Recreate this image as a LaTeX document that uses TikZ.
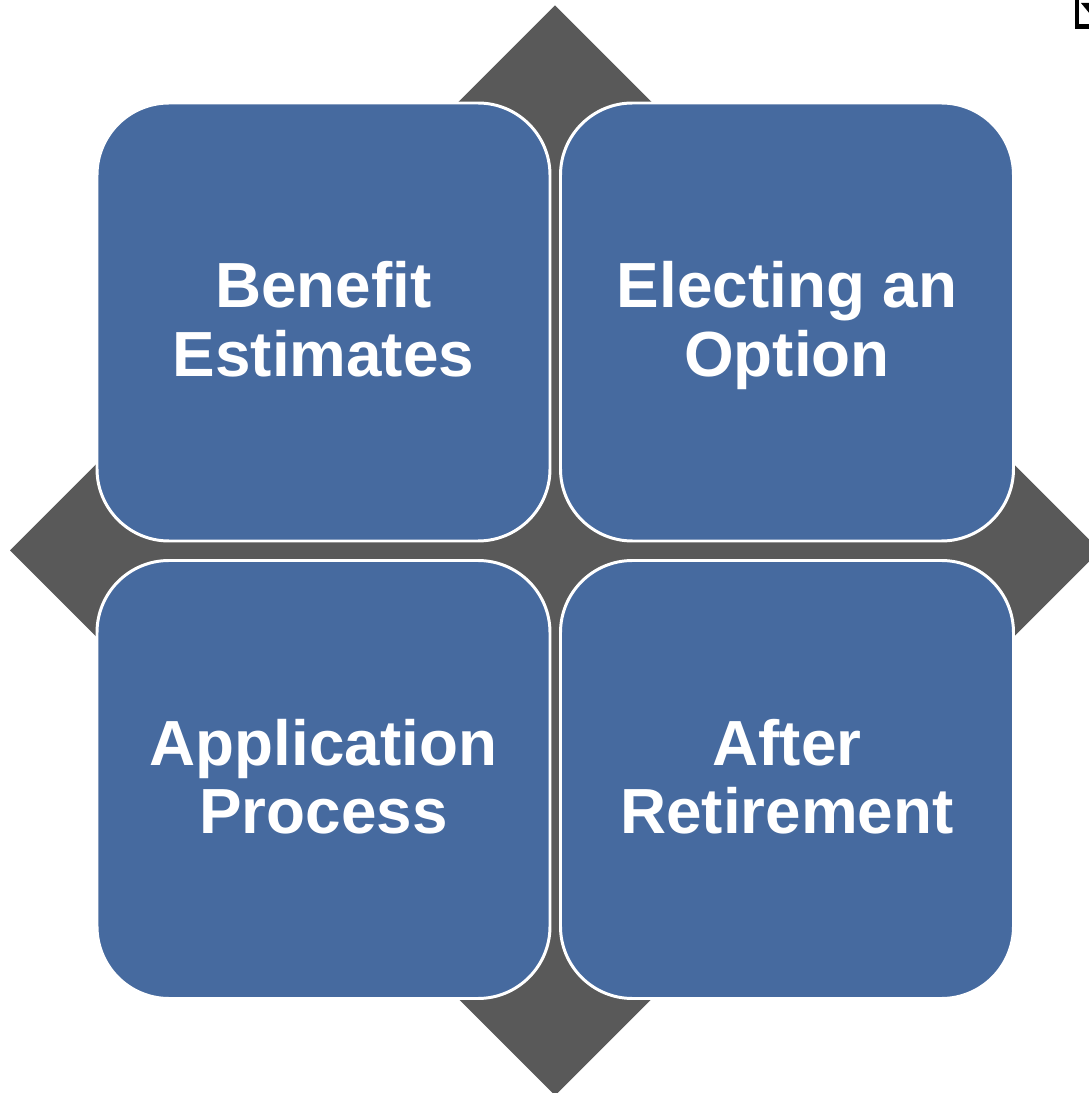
\documentclass[tikz,border=0pt]{standalone}
\usepackage{fontspec}
\setmainfont{Liberation Sans}
\usetikzlibrary{shapes.geometric,positioning}
\definecolor{tilefill}{RGB}{70,106,159}
\definecolor{crossfill}{RGB}{89,89,89}
\newcommand{\tilerows}[2]{\rule{0pt}{16.1pt}#1\\#2\rule[-4.8pt]{0pt}{4.8pt}}
\begin{document}
\begin{tikzpicture}[
        tile/.style={rectangle, rounded corners=0.72cm, minimum width=4.53cm, minimum height=4.38cm, inner sep=0pt, outer sep=0pt, draw=white, line width=0.85pt, fill=tilefill, text=white, align=center, font=\fontsize{18.15}{19.55}\selectfont\bfseries},
        cross/.style={diamond, aspect=1, minimum width=10.9cm, minimum height=10.9cm, inner sep=0pt, outer sep=0pt, fill=crossfill}
    ]
    \path[use as bounding box] (0,0) rectangle (10.89,10.93);

    % Backing shape
    \node[cross] (backing) at (5.55,5.425) {};

    % Tiles
    \node[tile] (benefit) at (3.235,7.71) {\tilerows{Benefit}{Estimates}};
    \node[tile] (electing) at (7.87,7.71) {\tilerows{Electing an}{Option}};
    \node[tile] (application) at (3.235,3.135) {\tilerows{Application}{Process}};
    \node[tile] (after) at (7.87,3.135) {\tilerows{After}{Retirement}};

    % Corner mark
    \draw[black, line width=1.15pt] (10.77,10.95) -- (10.77,10.665) -- (10.91,10.665);
    \fill[black] (10.81,10.90) -- (10.91,10.90) -- (10.90,10.79) -- cycle;
\end{tikzpicture}
\end{document}
